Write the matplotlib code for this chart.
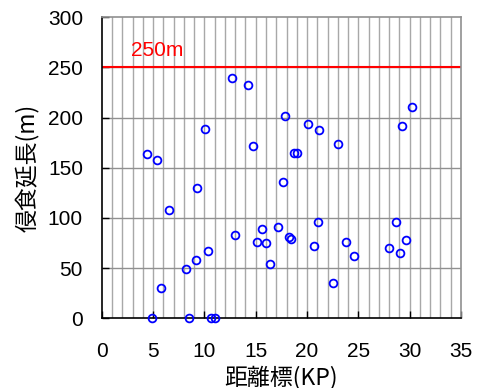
import matplotlib
matplotlib.use("Agg")
import matplotlib.pyplot as plt
import numpy as np

# Data
kp = [12.72, 14.28, 17.88, 10.06, 4.38, 5.39, 14.71, 9.31, 17.66,
      20.13, 21.2, 22.99, 18.76, 19.05, 29.22, 30.23,
      6.59, 13.01, 15.61, 17.2, 15.13, 16.03, 18.2, 16.42, 10.35, 9.19, 8.18, 5.75,
      4.87, 8.54, 10.62, 11.04,
      18.44, 21.04, 20.71, 22.56, 23.77, 24.58, 28.7, 28.02, 29.61, 29.09]
erosion = [240, 233, 202, 189, 163.5, 158, 171.5, 130, 136,
           193.5, 187.5, 173.5, 164.5, 164.5, 192, 211,
           107.5, 83, 89.5, 91.5, 76, 75.5, 81.5, 54, 67, 58.5, 48.8, 30.5,
           0, 0, 0, 0,
           79, 96.3, 72.4, 35, 76, 62.4, 96.3, 70.4, 78.3, 64.8]
limit_value = 250
limit_label = "250m"
xticks = [0, 5, 10, 15, 20, 25, 30, 35]
yticks = [0, 50, 100, 150, 200, 250, 300]

LATIN = ["Liberation Sans", "DejaVu Sans"]
CJK = ["Noto Sans CJK JP", "DejaVu Sans"]

fig = plt.figure(figsize=(4.86, 3.88), dpi=100)
ax = fig.add_axes([0.2093, 0.1796, 0.9486 - 0.2093, 0.9554 - 0.1796])

ax.set_xlim(0, 35)
ax.set_ylim(0, 300)

# grid
for xv in range(1, 35):
    ax.axvline(xv, color="#a8a8a8", lw=1.0, zorder=1)
for yv in yticks[1:-1]:
    ax.axhline(yv, color="#909090", lw=1.0, zorder=1)

ax.axhline(limit_value, color="#ff0000", lw=1.5, zorder=2)
ax.text(2.85, limit_value + 11.5, limit_label, color="#ff0000", fontsize=15,
        family=LATIN, va="baseline", ha="left")

ax.plot(kp, erosion, linestyle="none", marker="o", markersize=5.6,
        markerfacecolor="none", markeredgecolor="#0000ff", markeredgewidth=1.3,
        zorder=3, clip_on=False)

ax.set_xticks(xticks)
ax.set_yticks(yticks)
ax.tick_params(direction="in", length=5, width=1, labelsize=15)
ax.tick_params(axis="x", pad=17)
ax.tick_params(axis="y", pad=13.5)
for lab in ax.get_xticklabels() + ax.get_yticklabels():
    lab.set_family(LATIN)

ax.spines["left"].set_color("black")
ax.spines["bottom"].set_color("black")
ax.spines["top"].set_color("#909090")
ax.spines["right"].set_color("#909090")
for s in ax.spines.values():
    s.set_linewidth(1.2)

xl = ax.set_xlabel("距離標(KP)", fontsize=16.5, family=CJK)
yl = ax.set_ylabel("侵食延長(m)", fontsize=16.5, family=CJK)
xl.set_verticalalignment("center")
yl.set_verticalalignment("center")
ax.xaxis.set_label_coords(0.5, -0.1967)
ax.yaxis.set_label_coords(-0.2065, 0.5)

fig.savefig("out.png", dpi=100)
